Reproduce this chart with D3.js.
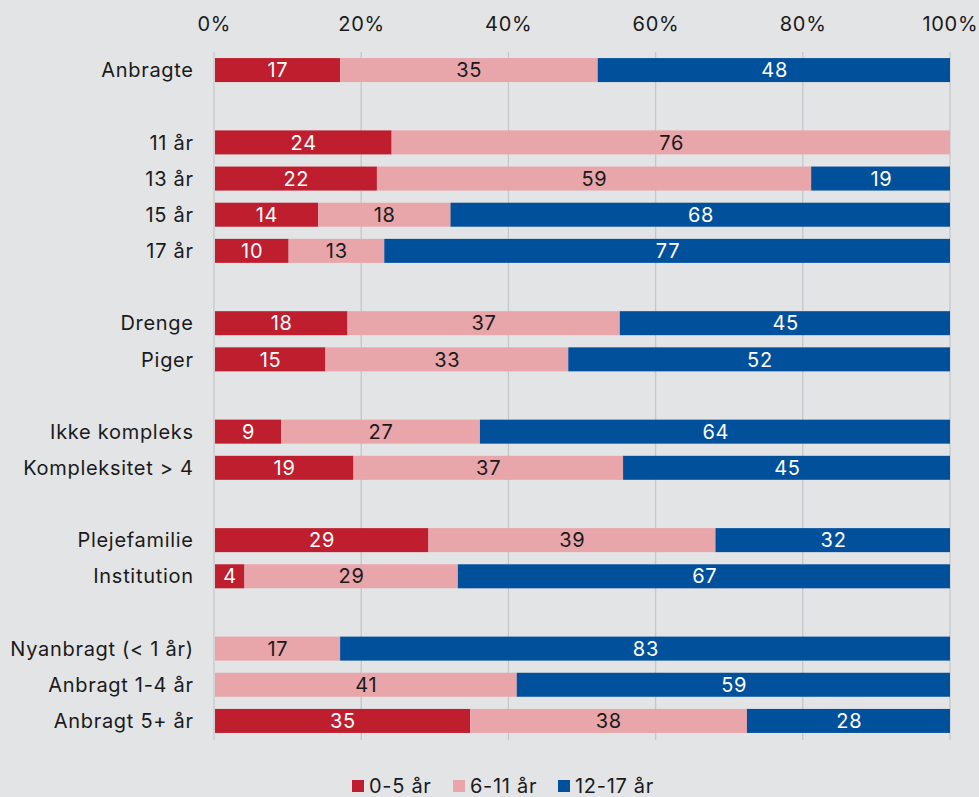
<!DOCTYPE html>
<html>
<head>
<meta charset="utf-8">
<script src="https://cdn.jsdelivr.net/npm/d3@7/dist/d3.min.js"></script>
<style>
  html, body { margin: 0; padding: 0; background: #e3e4e6; }
  svg { display: block; }
  text { font-family: Inter, "Noto Sans", sans-serif; letter-spacing: 0.7px; }
</style>
</head>
<body>
<svg id="chart" width="979" height="797"></svg>
<script>
// Row slots (empty string = gap between groups)
const categories = ["Anbragte", "", "11 år", "13 år", "15 år", "17 år", "", "Drenge", "Piger", "",
  "Ikke kompleks", "Kompleksitet > 4", "", "Plejefamilie", "Institution", "",
  "Nyanbragt (< 1 år)", "Anbragt 1-4 år", "Anbragt 5+ år"];
const seriesNames = ["0-5 år", "6-11 år", "12-17 år"];
const age0to5 =   [17, null, 24, 22, 14, 10, null, 18, 15, null, 9, 19, null, 29, 4, null, 0, 0, 35];
const age6to11 =  [35, null, 76, 59, 18, 13, null, 37, 33, null, 27, 37, null, 39, 29, null, 17, 41, 38];
const age12to17 = [48, null, 0, 19, 68, 77, null, 45, 52, null, 64, 45, null, 32, 67, null, 83, 59, 28];
const tickValues = [0, 0.2, 0.4, 0.6, 0.8, 1.0];
const colors = ["#be1e2d", "#e8a5aa", "#00509c"];
const labelColors = ["#ffffff", "#1a1a1a", "#ffffff"];

const svg = d3.select("#chart");
const fs = 20;
const ls = 0.7;
const x = d3.scaleLinear().domain([0, 1]).range([214, 950]);
const y = d3.scaleBand().domain(d3.range(categories.length)).range([52, 739]).padding(0);
const barH = 24;

const rows = categories.map((c, i) => ({ i, cat: c, a: age0to5[i], b: age6to11[i], c2: age12to17[i] }))
  .filter(r => r.cat !== "");
const keys = ["a", "b", "c2"];
const stack = d3.stack().keys(keys).offset(d3.stackOffsetExpand)
  .value((d, k) => d[k] || 0);
const stacked = stack(rows);

// gridlines
svg.append("g").selectAll("line").data(tickValues).join("line")
  .attr("x1", d => x(d)).attr("x2", d => x(d))
  .attr("y1", 52).attr("y2", 740)
  .attr("stroke", "#c6c7c9").attr("stroke-width", 1.3);

// top axis labels
svg.append("g").selectAll("text").data(tickValues).join("text")
  .attr("x", d => x(d) + ls / 2).attr("y", 31)
  .attr("text-anchor", "middle").attr("font-size", fs).attr("fill", "#1a1a1a")
  .text(d => d3.format(".0%")(d));

// bars
const layers = svg.append("g").selectAll("g").data(stacked).join("g")
  .attr("fill", (d, i) => colors[i]);
layers.selectAll("rect").data(d => d.filter(s => s[1] - s[0] > 0)).join("rect")
  .attr("x", d => x(d[0]) + 1)
  .attr("width", d => Math.max(0, x(d[1]) - x(d[0]) - (d[1] >= 0.999 ? 1 : 0)))
  .attr("y", d => y(d.data.i) + y.bandwidth() / 2 - barH / 2)
  .attr("height", barH);

// value labels
stacked.forEach((layer, li) => {
  svg.append("g").selectAll("text").data(layer.filter(s => s[1] - s[0] > 0)).join("text")
    .attr("x", d => (x(d[0]) + x(d[1])) / 2 + 1 + ls / 2)
    .attr("y", d => y(d.data.i) + y.bandwidth() / 2 + fs * 0.36)
    .attr("text-anchor", "middle").attr("font-size", fs)
    .attr("fill", labelColors[li])
    .text(d => d.data[keys[li]]);
});

// category labels
svg.append("g").selectAll("text").data(rows).join("text")
  .attr("x", 193 + ls)
  .attr("y", d => y(d.i) + y.bandwidth() / 2 + fs * 0.36)
  .attr("text-anchor", "end").attr("font-size", fs).attr("fill", "#1a1a1a")
  .text(d => d.cat);

// legend
const legendX = [352, 453, 558];
const lg = svg.append("g").selectAll("g").data(seriesNames).join("g")
  .attr("transform", (d, i) => `translate(${legendX[i]},780)`);
lg.append("rect").attr("width", 12).attr("height", 12).attr("fill", (d, i) => colors[i]);
lg.append("text").attr("x", 17).attr("y", 12.5).attr("font-size", fs).attr("fill", "#1a1a1a").text(d => d);
</script>
</body>
</html>
